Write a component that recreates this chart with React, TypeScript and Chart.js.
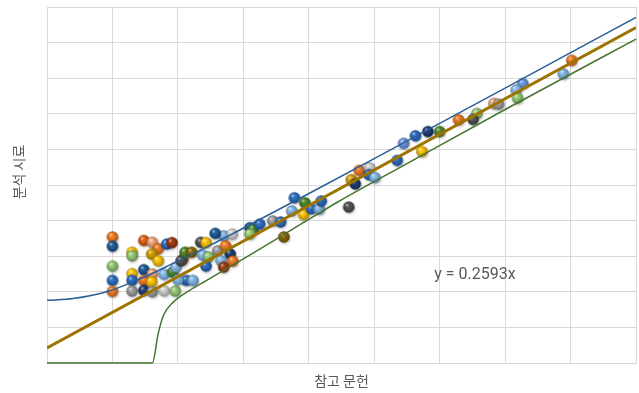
import React, { useEffect, useRef } from "react";
import { Chart, registerables } from "chart.js";

Chart.register(...registerables);

// ---- data (grid units) ----
const pointX = [
  1.0, 1.0, 1.0, 1.0, 1.0, 1.3, 1.3, 1.3, 1.3, 1.3,
  1.48, 1.61, 1.7, 1.6, 1.7, 1.83, 1.91, 1.48, 1.48, 1.61,
  1.6, 1.48, 1.61, 1.79, 1.79, 1.96, 1.92, 1.97, 2.08, 2.05,
  2.11, 2.21, 2.13, 2.23, 2.0, 2.35, 2.43, 2.38, 2.47, 2.43,
  2.61, 2.7, 2.57, 2.83, 2.73, 2.8, 2.66, 2.84, 2.7, 3.1,
  3.15, 3.1, 3.25, 3.45, 3.57, 3.62, 3.78, 3.94, 3.74, 3.92,
  4.04, 4.16, 4.19, 4.61, 4.65, 4.71, 4.77, 4.93, 4.92, 5.01,
  5.35, 5.45, 5.63, 5.82, 6.0, 5.73, 6.29, 6.57, 6.51, 6.83,
  6.9, 7.27, 7.17, 7.19, 8.02, 7.89,
];
const pointY = [
  3.54, 3.28, 2.72, 2.32, 2.01, 3.11, 3.01, 2.51, 2.32, 2.02,
  3.44, 3.39, 3.21, 3.06, 2.87, 3.34, 3.38, 2.62, 2.32, 2.5,
  2.28, 2.04, 2.0, 2.49, 2.03, 2.02, 2.55, 2.69, 2.92, 2.87,
  3.11, 3.11, 2.32, 2.32, 2.34, 3.39, 3.38, 3.03, 2.98, 2.72,
  3.15, 3.57, 3.64, 3.62, 3.29, 3.06, 2.87, 2.86, 2.69, 3.8,
  3.75, 3.62, 3.9, 3.99, 3.96, 3.54, 4.64, 4.5, 4.27, 4.17,
  4.33, 4.32, 4.55, 4.38, 5.15, 5.03, 5.41, 5.48, 5.29, 5.21,
  5.69, 6.17, 6.38, 6.5, 6.5, 5.94, 6.83, 7.01, 6.84, 7.29,
  7.27, 7.85, 7.67, 7.44, 8.5, 8.12,
];
const pointKind = [
  "O", "DB", "LG", "B", "O", "Y", "LG", "Y", "B", "GR",
  "R", "P", "O", "AM", "Y", "B", "RD", "DB", "O", "P",
  "Y", "N", "GR", "LB", "LGR", "LG", "G", "LB", "O", "DG",
  "G", "OL", "B", "LB", "LB", "DG", "Y", "LB", "LG", "B",
  "GR", "LB", "DB", "LGR", "O", "N", "LB", "O", "RD", "DB",
  "G", "LG", "B", "GR", "B", "OL", "B", "G", "LB", "Y",
  "B", "LB", "B", "DG", "AM", "N", "O", "LGR", "B", "LB",
  "B", "CB", "B", "N", "G", "Y", "O", "LG", "DG", "P",
  "GR", "CB", "LB", "LG", "O", "LB",
];

const trendX = [0, 9];
const trendY = [0.42, 9.42];

const upperX = [0, 0.4, 0.91, 1.42, 1.92, 2.43, 2.94, 3.96, 5, 7, 9];
const upperY = [1.76, 1.81, 2.0, 2.36, 2.79, 3.25, 3.73, 4.72, 5.74, 7.72, 9.71];

const lowerX = [0, 1.61, 1.7, 1.78, 1.93, 2.18, 2.44, 2.95, 3.46, 3.96, 4.47, 5.5, 7, 9];
const lowerY = [0, 0, 0.83, 1.34, 1.71, 2.04, 2.32, 2.87, 3.43, 3.99, 4.55, 5.6, 7.12, 9.1];

const equationText = "y = 0.2593x";
const equationPos = { x: 6.54, y: 2.46 };
const xTitle = "참고 문헌";
const yTitle = "분석 시료";

// ---- styles ----
const kindColors: Record<string, string> = {
  O: "#F27A22",
  P: "#F5A878",
  R: "#E0600F",
  RD: "#9E3A0A",
  Y: "#FFC400",
  AM: "#D9A000",
  B: "#2A6CC4",
  CB: "#6A98E2",
  DB: "#1A5A98",
  N: "#1A3A70",
  LB: "#84BAEA",
  G: "#4A8A28",
  LG: "#96CC74",
  GR: "#9E9E9E",
  DG: "#505050",
  LGR: "#D4D4D4",
  OL: "#8A6600",
};

function shade(hex: string, amt: number) {
  const n = parseInt(hex.slice(1), 16);
  let r = (n >> 16) & 255, g = (n >> 8) & 255, b = n & 255;
  if (amt >= 0) {
    r = r + (255 - r) * amt; g = g + (255 - g) * amt; b = b + (255 - b) * amt;
  } else {
    r = r * (1 + amt); g = g * (1 + amt); b = b * (1 + amt);
  }
  return `rgb(${Math.round(r)},${Math.round(g)},${Math.round(b)})`;
}

const spriteCache: Record<string, HTMLCanvasElement> = {};
function sphere(color: string) {
  if (spriteCache[color]) return spriteCache[color];
  const c = document.createElement("canvas");
  c.width = 18; c.height = 18;
  const ctx = c.getContext("2d")!;
  const cx = 9, cy = 9, r = 5.8;
  ctx.save();
  ctx.filter = "blur(1px)";
  ctx.fillStyle = "rgba(0,0,0,0.22)";
  ctx.beginPath();
  ctx.arc(cx + 0.8, cy + 1.4, r, 0, Math.PI * 2);
  ctx.fill();
  ctx.restore();
  const g = ctx.createRadialGradient(cx - 2, cy - 2.6, 0.2, cx, cy, r);
  g.addColorStop(0, shade(color, 0.65));
  g.addColorStop(0.3, shade(color, 0.05));
  g.addColorStop(0.8, shade(color, -0.2));
  g.addColorStop(1, shade(color, -0.4));
  ctx.fillStyle = g;
  ctx.beginPath();
  ctx.arc(cx, cy, r, 0, Math.PI * 2);
  ctx.fill();
  spriteCache[color] = c;
  return c;
}

const textPlugin = {
  id: "texts",
  afterDraw(chart: any) {
    const { ctx, chartArea, scales } = chart;
    ctx.save();
    ctx.fillStyle = "#595959";
    ctx.textAlign = "center";
    ctx.textBaseline = "middle";
    ctx.font = "16px Roboto, 'Noto Sans', sans-serif";
    ctx.fillText(equationText, scales.x.getPixelForValue(equationPos.x), scales.y.getPixelForValue(equationPos.y));
    ctx.font = "14px 'Noto Sans CJK KR', Roboto, sans-serif";
    ctx.fillText(xTitle, (chartArea.left + chartArea.right) / 2, chartArea.bottom + 18);
    ctx.translate(19, 172);
    ctx.rotate(-Math.PI / 2);
    ctx.fillText(yTitle, 0, 0);
    ctx.restore();
  },
};

export default function App() {
  const ref = useRef<HTMLCanvasElement>(null);
  useEffect(() => {
    document.body.style.margin = "0";
    const pts = pointX.map((x, i) => ({ x, y: pointY[i] }));
    const styles = pointKind.map((k) => sphere(kindColors[k]));
    const chart = new Chart(ref.current!, {
      type: "scatter",
      data: {
        datasets: [
          {
            label: "trend",
            data: trendX.map((x, i) => ({ x, y: trendY[i] })),
            showLine: true,
            borderColor: "#9E7400",
            borderWidth: 3,
            pointRadius: 0,
          },
          {
            label: "upper",
            data: upperX.map((x, i) => ({ x, y: upperY[i] })),
            showLine: true,
            borderColor: "#2A5E96",
            borderWidth: 1.5,
            pointRadius: 0,
            cubicInterpolationMode: "monotone",
          },
          {
            label: "lower",
            data: lowerX.map((x, i) => ({ x, y: lowerY[i] })),
            showLine: true,
            borderColor: "#46742E",
            borderWidth: 1.5,
            pointRadius: 0,
            cubicInterpolationMode: "monotone",
            clip: false as any,
          },
          {
            label: "samples",
            data: pts,
            pointStyle: styles as any,
            pointRadius: 6,
            showLine: false,
          },
        ],
      },
      options: {
        responsive: false,
        animation: false,
        events: [],
        layout: { padding: { left: 47, top: 1, right: 2, bottom: 30 } },
        plugins: { legend: { display: false }, tooltip: { enabled: false } },
        scales: {
          x: {
            type: "linear",
            min: 0,
            max: 9,
            ticks: { display: false, stepSize: 1 },
            grid: { color: "#D9D9D9", lineWidth: 1, drawTicks: false },
            border: { color: "#D9D9D9" },
          },
          y: {
            type: "linear",
            min: 0,
            max: 10,
            ticks: { display: false, stepSize: 1 },
            grid: { color: "#D9D9D9", lineWidth: 1, drawTicks: false },
            border: { color: "#D9D9D9" },
          },
        },
      },
      plugins: [textPlugin],
    });
    return () => chart.destroy();
  }, []);
  return (
    <div style={{ width: 639, height: 393, overflow: "hidden" }}>
      <canvas ref={ref} width={643} height={393} style={{ width: 643, height: 393, display: "block" }} />
    </div>
  );
}
